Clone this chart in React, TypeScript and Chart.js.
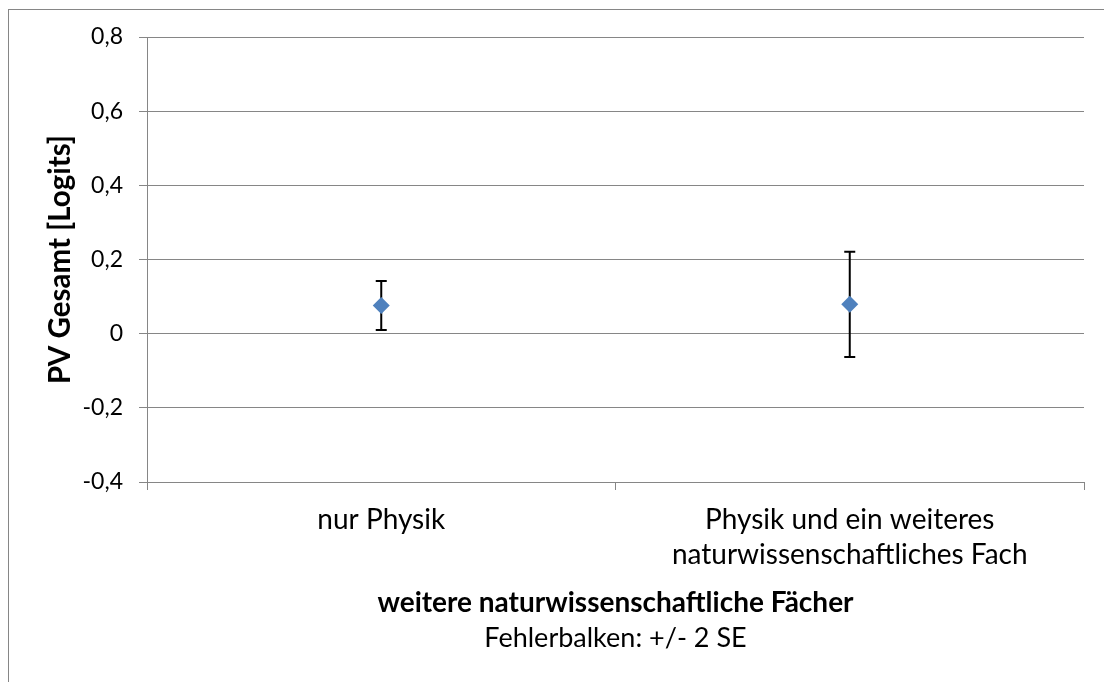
import React, { useEffect, useRef } from "react";
import { Chart, registerables } from "chart.js";

Chart.register(...registerables);

const categories: (string | string[])[] = [
  "nur Physik",
  ["Physik und ein weiteres", "naturwissenschaftliches Fach"],
];
const means: number[] = [0.076, 0.079];
const errors: number[] = [0.066, 0.142];
const yTicks: number[] = [-0.4, -0.2, 0, 0.2, 0.4, 0.6, 0.8];
const yTitle = "PV Gesamt [Logits]";
const xTitle = "weitere naturwissenschaftliche Fächer";
const xSubtitle = "Fehlerbalken: +/- 2 SE";

const FONT = "Lato";
const GRID = "#868686";

const errorBarPlugin = {
  id: "errorBars",
  beforeDatasetsDraw(chart: any) {
    const ctx = chart.ctx;
    const xs = chart.scales.x;
    const ys = chart.scales.y;
    ctx.save();
    ctx.strokeStyle = "#000000";
    ctx.lineWidth = 2;
    means.forEach((m, i) => {
      const x = xs.getPixelForValue(i);
      const yTop = ys.getPixelForValue(m + errors[i]);
      const yBot = ys.getPixelForValue(m - errors[i]);
      ctx.beginPath();
      ctx.moveTo(x, yTop);
      ctx.lineTo(x, yBot);
      ctx.moveTo(x - 5.5, yTop);
      ctx.lineTo(x + 5.5, yTop);
      ctx.moveTo(x - 5.5, yBot);
      ctx.lineTo(x + 5.5, yBot);
      ctx.stroke();
    });
    ctx.restore();
  },
};

const xTitlePlugin = {
  id: "xTitles",
  afterDraw(chart: any) {
    const ctx = chart.ctx;
    const ca = chart.chartArea;
    const cx = (ca.left + ca.right) / 2;
    ctx.save();
    ctx.fillStyle = "#000000";
    ctx.textAlign = "center";
    ctx.textBaseline = "alphabetic";
    ctx.font = `bold 28px ${FONT}`;
    ctx.fillText(xTitle, cx, ca.bottom + 130);
    ctx.font = `27px ${FONT}`;
    ctx.fillText(xSubtitle, cx, ca.bottom + 165);
    ctx.restore();
  },
};

export default function App() {
  const canvasRef = useRef<HTMLCanvasElement | null>(null);

  useEffect(() => {
    if (!canvasRef.current) return;
    const chart = new Chart(canvasRef.current, {
      type: "line",
      data: {
        labels: categories as any,
        datasets: [
          {
            data: means,
            showLine: false,
            pointStyle: "rectRot",
            pointRadius: 8.5,
            pointHoverRadius: 8.5,
            pointBackgroundColor: "#4F81BD",
            pointBorderColor: "#4F81BD",
            pointBorderWidth: 0,
          },
        ],
      },
      options: {
        animation: false,
        responsive: true,
        maintainAspectRatio: false,
        events: [],
        layout: { padding: { top: 37, right: 20, bottom: 100, left: 0 } },
        plugins: {
          legend: { display: false },
          tooltip: { enabled: false },
          title: { display: false },
        },
        scales: {
          x: {
            type: "category",
            offset: true,
            afterFit(scale: any) {
              scale.height = 100;
            },
            grid: {
              offset: true,
              drawOnChartArea: false,
              drawTicks: true,
              tickLength: 8,
              color: GRID,
              lineWidth: 1,
            },
            border: { color: GRID, width: 1 },
            ticks: {
              color: "#000000",
              font: { family: FONT, size: 28, lineHeight: 1.23 },
              padding: 13,
              maxRotation: 0,
              autoSkip: false,
            },
          },
          y: {
            type: "linear",
            min: -0.4,
            max: 0.8,
            afterFit(scale: any) {
              scale.width = 147;
            },
            afterBuildTicks(scale: any) {
              scale.ticks = yTicks.map((v) => ({ value: v }));
            },
            grid: {
              color: GRID,
              lineWidth: 1,
              drawTicks: true,
              tickLength: 8,
            },
            border: { color: GRID, width: 1 },
            ticks: {
              color: "#000000",
              font: { family: FONT, size: 23 },
              padding: 16,
              callback: (v: any) =>
                String(Number(Number(v).toFixed(1))).replace(".", ","),
            },
            title: {
              display: true,
              text: yTitle,
              color: "#000000",
              font: { family: FONT, size: 29.5, weight: "bold", lineHeight: 1.2 },
              padding: { top: 43, bottom: 0 },
            },
          },
        },
      },
      plugins: [errorBarPlugin, xTitlePlugin],
    } as any);
    return () => chart.destroy();
  }, []);

  return (
    <>
      <div
        style={{
          position: "fixed",
          left: 8,
          top: 9,
          width: 1200,
          height: 800,
          border: "1px solid #868686",
          boxSizing: "border-box",
        }}
      />
      <div
        style={{
          position: "fixed",
          left: 0,
          top: 0,
          width: 1104,
          height: 682,
        }}
      >
        <canvas ref={canvasRef} />
      </div>
    </>
  );
}
